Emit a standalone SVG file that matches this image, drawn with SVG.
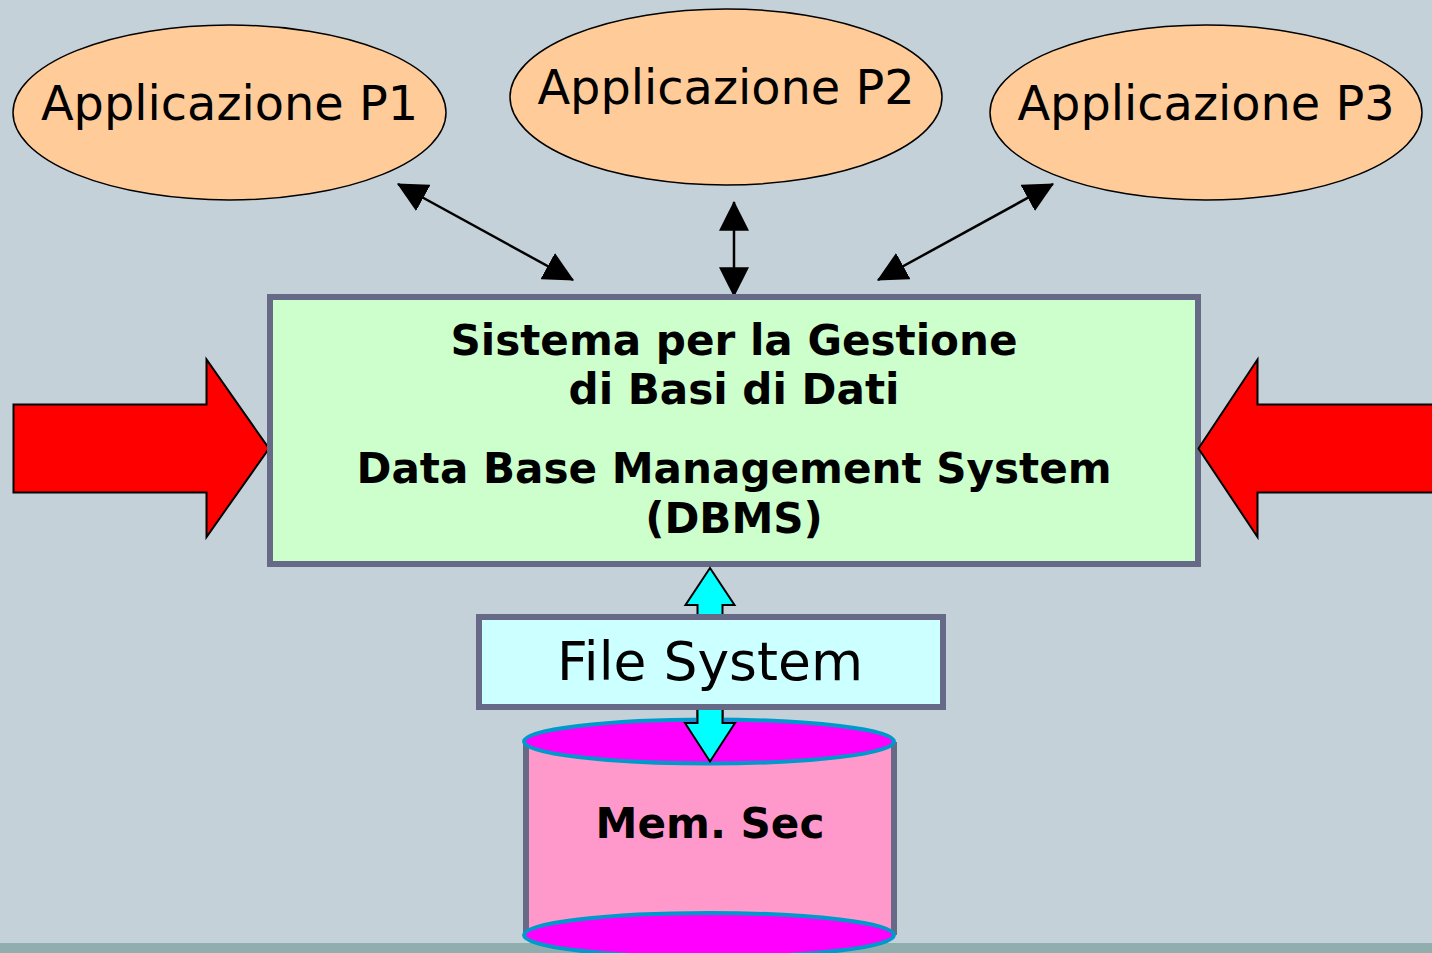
<svg xmlns="http://www.w3.org/2000/svg" width="1432" height="953" viewBox="0 0 1432 953">
<defs>
<style>
.app{fill:#FFCC99;stroke:#000;stroke-width:1.5}
.appt{font-family:"DejaVu Sans",Verdana,sans-serif;font-size:47.8px;fill:#000;text-anchor:middle}
.bold{font-family:"DejaVu Sans",Verdana,sans-serif;font-weight:bold;font-size:42.1px;fill:#000;text-anchor:middle}
.link{stroke:#000;stroke-width:2.5;fill:none;marker-start:url(#ah);marker-end:url(#ah)}
.red{fill:#FF0000;stroke:#000;stroke-width:2}
</style>
<marker id="ah" markerUnits="userSpaceOnUse" markerWidth="30" markerHeight="30" viewBox="0 0 26 26" refX="25" refY="13" orient="auto-start-reverse">
<path d="M0,0 L26,13 L0,26 Z" fill="#000"/>
</marker>
</defs>
<rect x="0" y="0" width="1432" height="953" fill="#C5D1D8"/>
<rect x="0" y="943" width="1432" height="10" fill="#8FAEAD"/>

<g id="connectors">
<line class="link" x1="573" y1="280" x2="398" y2="184"/>
<line class="link" x1="734" y1="296" x2="734" y2="202"/>
<line class="link" x1="878" y1="280" x2="1053" y2="184"/>
</g>

<g id="p1">
<ellipse class="app" cx="229.5" cy="112.5" rx="216.5" ry="87.5"/>
<text class="appt" x="229.5" y="120">Applicazione P1</text>
</g>
<g id="p2">
<ellipse class="app" cx="726" cy="97" rx="216" ry="88"/>
<text class="appt" x="726" y="104">Applicazione P2</text>
</g>
<g id="p3">
<ellipse class="app" cx="1206" cy="112.5" rx="216" ry="87.5"/>
<text class="appt" x="1206" y="120">Applicazione P3</text>
</g>

<g id="left-arrow">
<polygon class="red" points="13.5,404.5 206.5,404.5 206.5,359.5 269,448.5 206.5,537 206.5,492.5 13.5,492.5"/>
</g>

<g id="dbms">
<rect x="270" y="297" width="928" height="267" fill="#CCFFCC" stroke="#666A86" stroke-width="6"/>
<text class="bold" x="734" y="355">Sistema per la Gestione</text>
<text class="bold" x="734" y="404">di Basi di Dati</text>
<text class="bold" x="734" y="483">Data Base Management System</text>
<text class="bold" x="734" y="533">(DBMS)</text>
</g>

<g id="right-arrow">
<polygon class="red" points="1440,404.5 1257.5,404.5 1257.5,359.5 1198.5,448.5 1257.5,537 1257.5,492.5 1440,492.5"/>
</g>

<g id="cyan-arrow">
<polygon points="710,568 734.5,605 722.5,605 722.5,723 735,723 710,761.5 685,723 697.5,723 697.5,605 685.5,605" fill="#00FFFF" stroke="#000" stroke-width="2"/>
</g>

<g id="mem">
<rect x="526" y="742" width="368" height="193" fill="#FF99CC"/>
<line x1="526" y1="742" x2="526" y2="935" stroke="#666A86" stroke-width="6"/>
<line x1="894" y1="742" x2="894" y2="935" stroke="#666A86" stroke-width="6"/>
<ellipse cx="709" cy="935" rx="185" ry="22" fill="#FF00FF" stroke="#0099CC" stroke-width="4"/>
<ellipse cx="709" cy="741.5" rx="185" ry="22" fill="#FF00FF" stroke="#0099CC" stroke-width="4"/>
<polygon points="697.5,706 722.5,706 722.5,723 735,723 710,761.5 685,723 697.5,723" fill="#00FFFF" stroke="#000" stroke-width="2"/>
<text class="bold" x="710" y="838">Mem. Sec</text>
</g>

<g id="fs">
<rect x="479" y="617" width="464" height="90" fill="#CCFFFF" stroke="#666A86" stroke-width="6"/>
<text class="appt" x="710" y="680" style="font-size:53.5px">File System</text>
</g>
</svg>
